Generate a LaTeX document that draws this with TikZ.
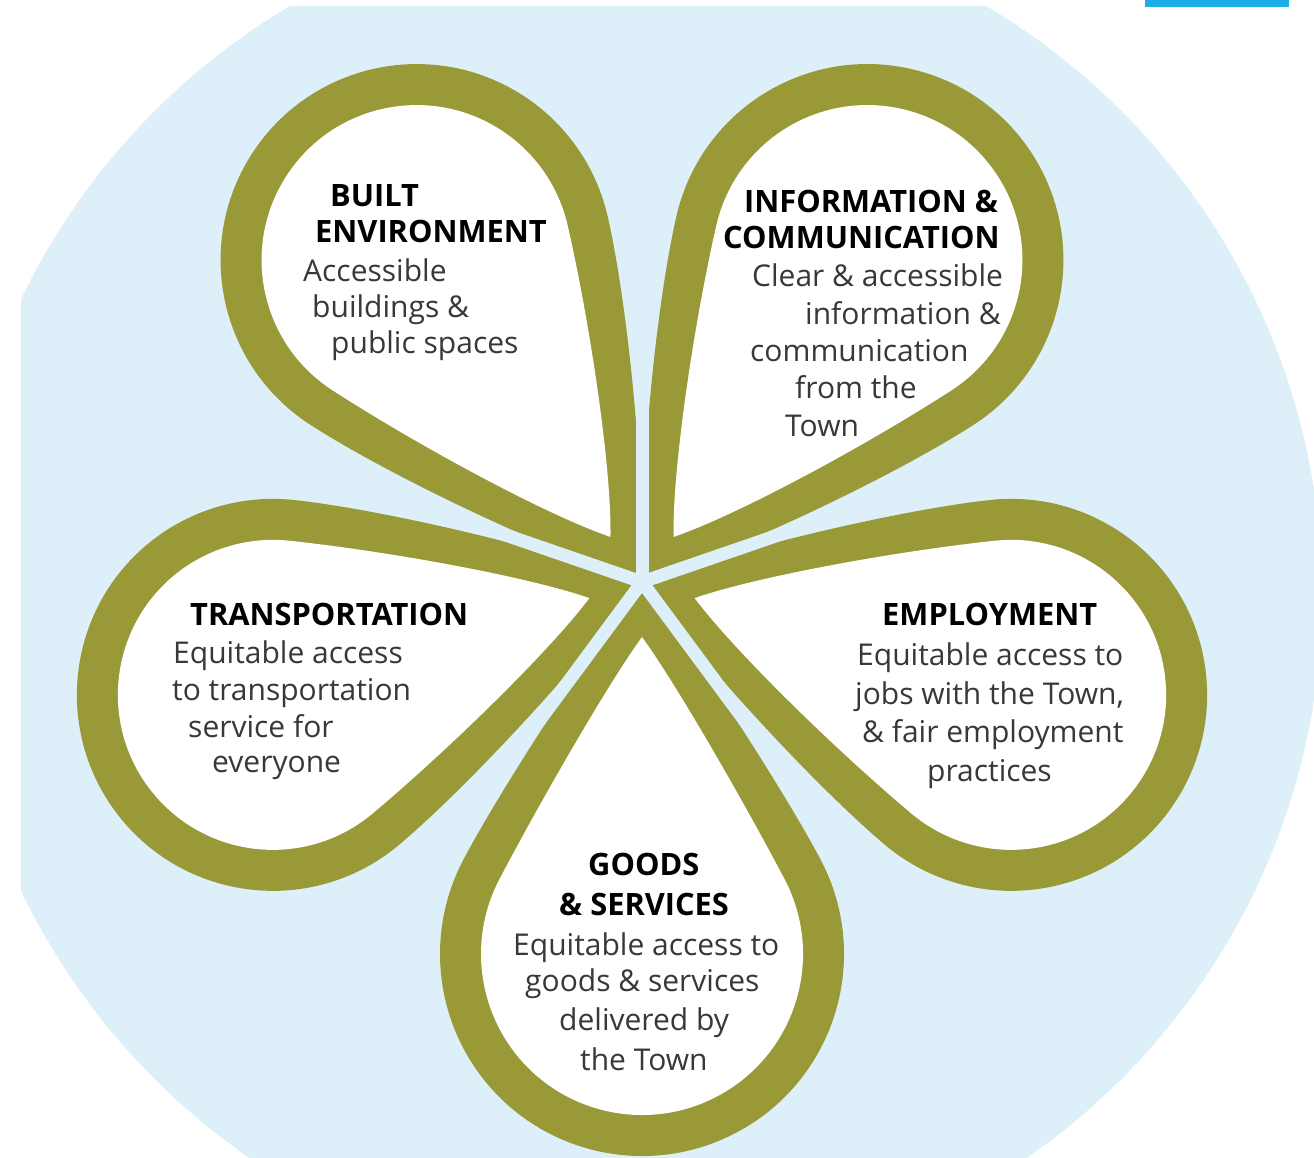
\documentclass[tikz,border=0pt]{standalone}
\usepackage{fontspec}
\setmainfont{Open Sans}
\definecolor{petalgreen}{HTML}{999938}
\definecolor{skyback}{HTML}{DDF0FA}
\definecolor{topblue}{HTML}{1EAEE5}
\definecolor{bodygray}{HTML}{383838}
\newcommand{\ttlfont}{\fontsize{30.8}{36}\selectfont\bfseries}
\newcommand{\bdyfont}{\fontsize{30}{35}\selectfont}
% #1 axis angle, #2 bulb centre distance, #3 bulb radius
\newcommand{\petalshape}[3]{%
\begin{scope}[shift={(642,582)}, rotate=#1, x=1pt, y=1pt]
\pgfmathsetmacro{\pax}{200*cos(36)}
\pgfmathsetmacro{\pay}{200*sin(36)}
\pgfmathsetmacro{\pd}{100*veclen((#2-\pax)/100, \pay/100)}
\pgfmathsetmacro{\pg}{atan2(-\pay, #2-\pax) + asin(#3/\pd)}
\pgfmathsetmacro{\pl}{100*sqrt((\pd/100)^2-(#3/100)^2)}
\pgfmathsetmacro{\ptx}{#2-#3*sin(\pg)}
\pgfmathsetmacro{\pty}{#3*cos(\pg)}
\pgfmathsetmacro{\pcx}{0.6*\pax}
\pgfmathsetmacro{\pcy}{0.6*\pay}
\pgfmathsetmacro{\pex}{\ptx-0.5*\pl*cos(\pg)}
\pgfmathsetmacro{\pey}{\pty-0.5*\pl*sin(\pg)}
\fill[petalgreen] (0,0) .. controls (\pcx,\pcy) and (\pex,\pey) .. (\ptx,\pty)
  arc[start angle=\pg+90, end angle=-\pg-90, radius=#3]
  .. controls (\pex,-\pey) and (\pcx,-\pcy) .. (0,0) -- cycle;
\pgfmathsetmacro{\pri}{#3-41}
\pgfmathsetmacro{\psi}{(\pri-sin(\pg)*(#2-55))/sin(36-\pg)}
\pgfmathsetmacro{\pix}{#2-\pri*sin(\pg)}
\pgfmathsetmacro{\piy}{\pri*cos(\pg)}
\pgfmathsetmacro{\pqx}{55+\psi*cos(36)}
\pgfmathsetmacro{\pqy}{\psi*sin(36)}
\pgfmathsetmacro{\pli}{100*veclen((\pix-\pqx)/100, (\piy-\pqy)/100)}
\pgfmathsetmacro{\pfx}{55+0.6*\psi*cos(36)}
\pgfmathsetmacro{\pfy}{0.6*\psi*sin(36)}
\pgfmathsetmacro{\phx}{\pix-0.5*\pli*cos(\pg)}
\pgfmathsetmacro{\phy}{\piy-0.5*\pli*sin(\pg)}
\fill[white] (55,0) .. controls (\pfx,\pfy) and (\phx,\phy) .. (\pix,\piy)
  arc[start angle=\pg+90, end angle=-\pg-90, radius=\pri]
  .. controls (\phx,-\phy) and (\pfx,-\pfy) .. (55,0) -- cycle;
\end{scope}}
\newcommand{\gapline}[1]{%
\begin{scope}[shift={(642,582)}, rotate=#1, x=1pt, y=1pt]
\draw[skyback, line width=13pt] (0,0) -- (200,0);
\end{scope}}
\tikzset{
  ttl/.style={font=\ttlfont, text=black, anchor=base west, inner sep=0pt},
  bdy/.style={font=\bdyfont, text=bodygray, anchor=base west, inner sep=0pt}
}
\begin{document}
\begin{tikzpicture}[x=1pt,y=-1pt]
\useasboundingbox (0,0) rectangle (1314,1158);
\fill[white] (0,0) rectangle (1314,1158);
\begin{scope}
\clip (21,7) rectangle (1314,1158);
\fill[skyback] (638,595) circle[radius=684];
\end{scope}
\fill[topblue] (1145,0) rectangle (1289,7);
% petals
\petalshape{125}{393}{196}
\petalshape{55}{393}{196}
\petalshape{-17}{386}{196}
\petalshape{-90}{372}{202}
\petalshape{197}{386}{196}
% gaps
\gapline{90}
\gapline{19}
\gapline{161}
\gapline{233.5}
\gapline{306.5}
\fill[skyback] (642,582) circle[radius=7];
% texts
\node[ttl] (t1a) at (330,207) {BUILT};
\node[ttl] (t1b) at (315,243) {ENVIRONMENT};
\node[bdy] (b1a) at (303,281) {Accessible};
\node[bdy] (b1b) at (312,317) {buildings \&};
\node[bdy] (b1c) at (331,353) {public spaces};
\node[ttl] (t2a) at (744,213) {INFORMATION \&};
\node[ttl] (t2b) at (723,249) {COMMUNICATION};
\node[bdy] (b2a) at (752,287) {Clear \& accessible};
\node[bdy] (b2b) at (805,324) {information \&};
\node[bdy] (b2c) at (750,361) {communication};
\node[bdy] (b2d) at (795,398) {from the};
\node[bdy] (b2e) at (785,436) {Town};
\node[ttl] (t3a) at (190,625) {TRANSPORTATION};
\node[bdy] (b3a) at (173,663) {Equitable access};
\node[bdy] (b3b) at (172,700) {to transportation};
\node[bdy] (b3c) at (188,737) {service for};
\node[bdy] (b3d) at (212,772) {everyone};
\node[ttl] (t4a) at (882,625) {EMPLOYMENT};
\node[bdy] (b4a) at (857,665) {Equitable access to};
\node[bdy] (b4b) at (855,704) {jobs with the Town,};
\node[bdy] (b4c) at (862,742) {\& fair employment};
\node[bdy] (b4d) at (927,781) {practices};
\node[ttl] (t5a) at (588,875) {GOODS};
\node[ttl] (t5b) at (559,915) {\& SERVICES};
\node[bdy] (b5a) at (513,955) {Equitable access to};
\node[bdy] (b5b) at (525,991) {goods \& services};
\node[bdy] (b5c) at (559,1030) {delivered by};
\node[bdy] (b5d) at (580,1070) {the Town};
\end{tikzpicture}
\end{document}
